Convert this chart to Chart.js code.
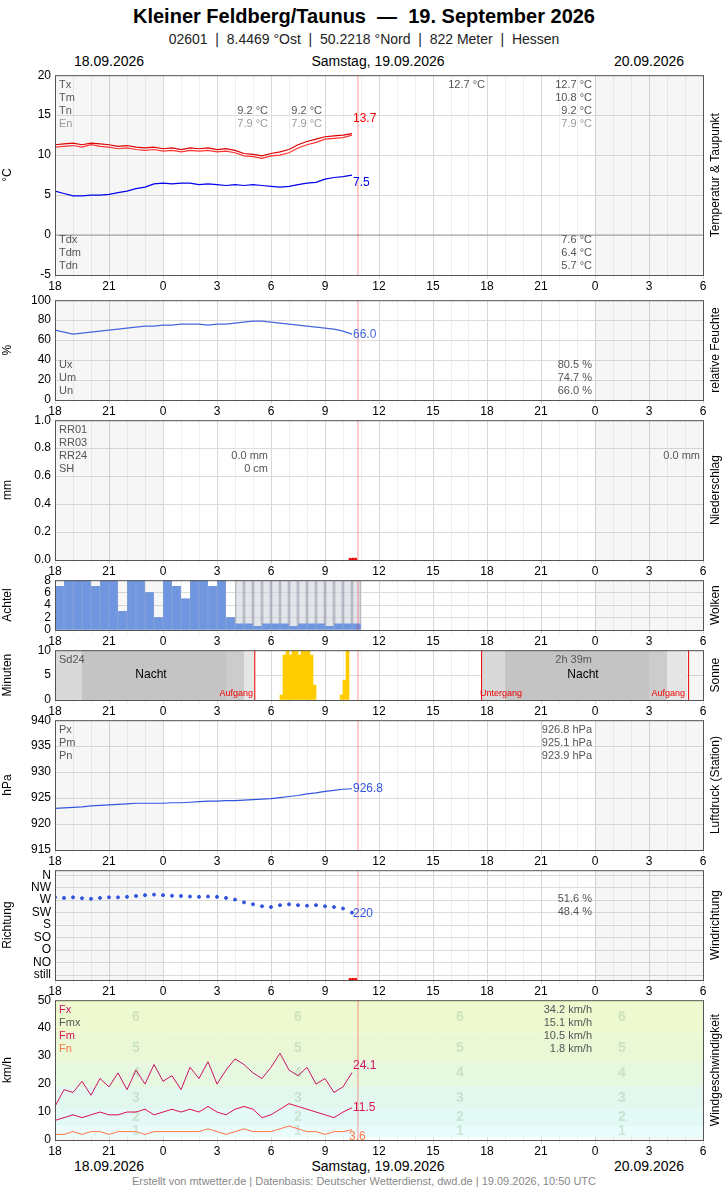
<!DOCTYPE html><html><head><meta charset="utf-8">
<script src="https://cdn.jsdelivr.net/npm/chart.js@4"></script>
<style>body{margin:0;width:728px;height:1190px;position:relative;font-family:"Liberation Sans",Arial,sans-serif;background:#fff}
canvas{position:absolute;left:0}.t{position:absolute;white-space:nowrap;transform:translateX(-50%)}</style></head><body>
<div class="t" style="left:364px;top:5px;font-size:20px;font-weight:bold">Kleiner Feldberg/Taunus &nbsp;—&nbsp; 19. September 2026</div>
<div class="t" style="left:364px;top:31px;font-size:14px;color:#222">02601 &nbsp;|&nbsp; 8.4469 °Ost &nbsp;|&nbsp; 50.2218 °Nord &nbsp;|&nbsp; 822 Meter &nbsp;|&nbsp; Hessen</div>
<div class="t" style="left:109px;top:53px;font-size:14px">18.09.2026</div>
<div class="t" style="left:378px;top:53px;font-size:14px">Samstag, 19.09.2026</div>
<div class="t" style="left:649px;top:53px;font-size:14px">20.09.2026</div>
<div class="t" style="left:109px;top:1158px;font-size:14px">18.09.2026</div>
<div class="t" style="left:378px;top:1158px;font-size:14px">Samstag, 19.09.2026</div>
<div class="t" style="left:649px;top:1158px;font-size:14px">20.09.2026</div>
<div class="t" style="left:364px;top:1175px;font-size:11px;color:#888">Erstellt von mtwetter.de | Datenbasis: Deutscher Wetterdienst, dwd.de | 19.09.2026, 10:50 UTC</div>
<script>
const hours=[0,0.5,1,1.5,2,2.5,3,3.5,4,4.5,5,5.5,6,6.5,7,7.5,8,8.5,9,9.5,10,10.5,11,11.5,12,12.5,13,13.5,14,14.5,15,15.5,16,16.5];
const temp=[11.0,11.1,11.2,11.0,11.3,11.1,11.0,10.8,10.9,10.7,10.6,10.7,10.5,10.6,10.4,10.6,10.5,10.6,10.4,10.5,10.3,9.9,9.8,9.6,9.9,10.0,10.3,10.9,11.3,11.6,12.0,12.1,12.2,12.5];
const tempMax=[11.3,11.4,11.5,11.3,11.5,11.4,11.3,11.1,11.2,11.0,10.9,11.0,10.8,10.9,10.7,10.9,10.8,10.9,10.7,10.8,10.6,10.2,10.1,9.9,10.2,10.4,10.7,11.3,11.7,12.0,12.3,12.4,12.5,12.7];
const dew=[5.5,5.2,4.9,4.9,5.0,5.0,5.1,5.3,5.5,5.8,6.0,6.4,6.5,6.4,6.5,6.5,6.3,6.4,6.3,6.2,6.3,6.2,6.3,6.2,6.1,6.0,6.1,6.3,6.5,6.6,7.0,7.2,7.3,7.5];
const hum=[70,68,66,67,68,69,70,71,72,73,74,74,75,75,76,76,76,75,76,76,77,78,79,79,78,77,76,75,74,73,72,71,69,66];
const cloud=[7,8,8,8,7,8,8,3,8,8,6,2,8,7,5,8,8,7,8,2,8,8,7,8,8,8,7,8,8,8,7,8,8,8];
const sunT=[12.58,12.75,12.92,13.08,13.25,13.42,13.58,13.75,13.92,14.08,14.25,14.42,15.92,16.08,16.25];
const sunM=[1,9,10,9,10,10,9,10,10,10,9,3,1,4,10];
const pres=[923.0,923.1,923.2,923.3,923.5,923.6,923.7,923.8,923.9,924.0,924.0,924.0,924.0,924.1,924.1,924.2,924.3,924.4,924.4,924.5,924.5,924.6,924.7,924.8,924.9,925.1,925.3,925.5,925.8,926.0,926.3,926.5,926.7,926.8];
const wdir=[280,278,280,277,275,278,280,280,282,285,288,290,288,286,285,283,282,283,282,278,272,262,255,248,245,252,255,252,250,252,248,245,240,225];
const gust=[12,18,17,21,16,22,19,24,18,25,20,27,21,23,18,26,22,28,20,25,29,27,24,22,26,31,25,23,26,20,22,17,19,24.1];
const wmean=[7,8,9,8,9,10,9,9,10,10,11,9,10,11,10,11,10,12,10,9,11,12,11,8,9,11,13,12,11,10,9,8,10,11.5];
const wmin=[2,2,3,2,3,3,2,3,3,3,2,3,3,3,3,3,3,4,3,2,3,4,3,3,3,4,5,4,3,3,2,3,3,3.6];
const dirNames={360:'N',315:'NW',270:'W',225:'SW',180:'S',135:'SO',90:'O',45:'NO',0:'still'};
const NOW=16.83;
const xy=(a)=>a.map((v,i)=>({x:hours[i],y:v}));

function makeDeco(o){return {id:'deco',beforeDatasetsDraw(c){const x=c.scales.x,ca=c.chartArea,g=c.ctx;g.save();
 g.fillStyle='rgba(0,0,0,0.035)';[[0,6],[30,36]].forEach(r=>g.fillRect(x.getPixelForValue(r[0]),ca.top,x.getPixelForValue(r[1])-x.getPixelForValue(r[0]),ca.bottom-ca.top));
 if(o.before)o.before(c,g);g.restore();},
 afterDatasetsDraw(c){const x=c.scales.x,ca=c.chartArea,g=c.ctx;g.save();
 g.strokeStyle='rgba(255,0,0,0.4)';g.lineWidth=1;const nx=x.getPixelForValue(NOW);g.beginPath();g.moveTo(nx,ca.top);g.lineTo(nx,ca.bottom);g.stroke();
 g.strokeStyle='#555';g.strokeRect(ca.left+.5,ca.top+.5,ca.right-ca.left,ca.bottom-ca.top);
 (o.texts||[]).forEach(t=>{g.font=(t.s||11)+'px "Liberation Sans",Arial';g.fillStyle=t.c||'#555';g.textAlign=t.a||'left';g.textBaseline='middle';g.fillText(t.t,ca.left+t.x,ca.top+t.y);});
 g.translate(716,(ca.top+ca.bottom)/2);g.rotate(-Math.PI/2);g.font='12px "Liberation Sans",Arial';g.fillStyle='#000';g.textAlign='center';g.textBaseline='middle';g.fillText(o.side,0,0);
 g.restore();}};}

function panel(top,bottom,yopt,datasets,opts){
 const cv=document.createElement('canvas');const h=bottom-top+30;cv.style.top=(top-11)+'px';cv.style.width='728px';cv.style.height=h+'px';cv.width=728;cv.height=h;document.body.appendChild(cv);
 const y=Object.assign({position:'left',afterFit:s=>{s.width=55},border:{display:false},
   title:{display:true,text:yopt.title,color:'#000',font:{size:12},padding:0},ticks:Object.assign({color:'#000',font:{size:12},padding:4,autoSkip:false},yopt.ticks||{}),grid:{color:'#dcdcdc',drawTicks:false}},yopt.y);
 return new Chart(cv,{data:{datasets},options:{animation:false,responsive:false,devicePixelRatio:1,layout:{padding:{top:7,left:0,right:0,bottom:0}},
 plugins:{legend:{display:false},tooltip:{enabled:false}},
 scales:{x:{type:'linear',min:0,max:36,offset:false,afterFit:s=>{s.height=19},ticks:{stepSize:1,autoSkip:false,maxRotation:0,padding:0,color:'#000',font:{size:12},callback:v=>v%3===0?String((v+18)%24):''},
   grid:{offset:false,color:c=>c.tick&&c.tick.value%3===0?'#d8d8d8':'#efefef',tickLength:4},border:{display:false}},
  y:y,
  r:{type:'linear',position:'right',axis:'y',min:0,max:1,afterFit:s=>{s.width=25},ticks:{display:false},grid:{display:false},border:{display:false}}}},plugins:[makeDeco(opts)]});
}
const L=(d,col,w)=>({type:'line',data:d,borderColor:col,borderWidth:w||1.2,pointRadius:0,tension:0});

panel(75,275,{title:'°C',y:{min:-5,max:20},ticks:{stepSize:5}},[
 L(xy(temp),'#ff3333'),L(xy(tempMax),'#dd0000'),L(xy(dew),'#0000ee'),
 {type:'line',data:[{x:0,y:0},{x:36,y:0}],borderColor:'#999',borderWidth:1,pointRadius:0}],
 {side:'Temperatur & Taupunkt',texts:[{t:'Tx',x:4,y:10},{t:'Tm',x:4,y:23},{t:'Tn',x:4,y:36},{t:'En',x:4,y:49,c:'#999'},
 {t:'9.2 °C',x:213,y:36,a:'right'},{t:'7.9 °C',x:213,y:49,a:'right',c:'#999'},{t:'9.2 °C',x:267,y:36,a:'right'},{t:'7.9 °C',x:267,y:49,a:'right',c:'#999'},
 {t:'12.7 °C',x:430,y:10,a:'right'},{t:'12.7 °C',x:537,y:10,a:'right'},{t:'10.8 °C',x:537,y:23,a:'right'},{t:'9.2 °C',x:537,y:36,a:'right'},{t:'7.9 °C',x:537,y:49,a:'right',c:'#999'},
 {t:'13.7',x:298,y:43,c:'#ee0000',s:12},{t:'7.5',x:298,y:107,c:'#0000ee',s:12},
 {t:'Tdx',x:4,y:165},{t:'Tdm',x:4,y:178},{t:'Tdn',x:4,y:191},{t:'7.6 °C',x:537,y:165,a:'right'},{t:'6.4 °C',x:537,y:178,a:'right'},{t:'5.7 °C',x:537,y:191,a:'right'}]});

panel(300,400,{title:'%',y:{min:0,max:100},ticks:{stepSize:20}},[L(xy(hum),'#4466dd')],
 {side:'relative Feuchte',texts:[{t:'66.0',x:298,y:34,c:'#4466dd',s:12},{t:'Ux',x:4,y:65},{t:'Um',x:4,y:78},{t:'Un',x:4,y:91},
 {t:'80.5 %',x:537,y:65,a:'right'},{t:'74.7 %',x:537,y:78,a:'right'},{t:'66.0 %',x:537,y:91,a:'right'}]});

panel(420,560,{title:'mm',y:{min:0,max:1},ticks:{stepSize:0.2,callback:v=>v.toFixed(1)}},[
 {type:'scatter',data:[{x:16.4,y:0.005},{x:16.55,y:0.005},{x:16.7,y:0.005}],pointRadius:1.2,pointBackgroundColor:'#e00',borderColor:'#e00'}],
 {side:'Niederschlag',texts:[{t:'RR01',x:4,y:10},{t:'RR03',x:4,y:23},{t:'RR24',x:4,y:36},{t:'SH',x:4,y:49},{t:'0.0 mm',x:213,y:36,a:'right'},{t:'0 cm',x:213,y:49,a:'right'},{t:'0.0 mm',x:645,y:36,a:'right'}]});

panel(580,630,{title:'Achtel',y:{min:0,max:8},ticks:{stepSize:2}},[
 {type:'bar',data:xy(cloud).map(p=>({x:p.x+0.25,y:p.x<10?p.y:8})),backgroundColor:'rgba(200,205,215,0.5)',borderColor:'#99a',borderWidth:0.5,barThickness:8,grouped:false,order:2},
 {type:'bar',data:xy(cloud).map(p=>({x:p.x+0.25,y:p.x<10?p.y:(p.y>=8?1:0.6)})),backgroundColor:'#7096e0',barThickness:8,grouped:false,order:1}],
 {side:'Wolken'});

panel(650,700,{title:'Minuten',y:{min:0,max:10},ticks:{stepSize:5}},[
 {type:'bar',data:sunT.map((t,i)=>({x:t,y:sunM[i]})),backgroundColor:'#ffcc00',barThickness:3,grouped:false}],
 {side:'Sonne',before:(c,g)=>{const x=c.scales.x,ca=c.chartArea;const f=(a,b,col)=>{g.fillStyle=col;g.fillRect(x.getPixelForValue(a),ca.top,x.getPixelForValue(b)-x.getPixelForValue(a),ca.bottom-ca.top)};
  f(0,11.1,'#d9d9d9');f(1.5,9.5,'#c4c4c4');f(9.5,10.5,'#ccc');f(10.5,11.1,'#e6e6e6');f(23.7,35.1,'#d9d9d9');f(25,33,'#c4c4c4');f(33,34,'#ccc');f(34,35.1,'#e6e6e6');
  g.strokeStyle='#e00';[11.1,23.7,35.2].forEach(v=>{const p=x.getPixelForValue(v);g.beginPath();g.moveTo(p,ca.top);g.lineTo(p,ca.bottom);g.stroke();});},
 texts:[{t:'Sd24',x:4,y:10},{t:'Nacht',x:96,y:24,c:'#000',a:'center',s:12},{t:'Aufgang',x:198,y:43,c:'#e00',a:'right',s:9},{t:'Untergang',x:425,y:43,c:'#e00',s:9},
 {t:'2h 39m',x:537,y:10,a:'right'},{t:'Nacht',x:528,y:24,c:'#000',a:'center',s:12},{t:'Aufgang',x:630,y:43,c:'#e00',a:'right',s:9}]});

panel(720,850,{title:'hPa',y:{min:915,max:940},ticks:{stepSize:5}},[L(xy(pres),'#3355dd')],
 {side:'Luftdruck (Station)',texts:[{t:'Px',x:4,y:10},{t:'Pm',x:4,y:23},{t:'Pn',x:4,y:36},{t:'926.8 hPa',x:537,y:10,a:'right'},{t:'925.1 hPa',x:537,y:23,a:'right'},{t:'923.9 hPa',x:537,y:36,a:'right'},{t:'926.8',x:298,y:68,c:'#3355dd',s:12}]});

panel(870,980,{title:'Richtung',y:{min:-18,max:378,afterBuildTicks:s=>{s.ticks=[0,45,90,135,180,225,270,315,360].map(v=>({value:v}))}},ticks:{callback:v=>dirNames[v]}},[
 {type:'scatter',data:xy(wdir),pointRadius:1.5,pointBackgroundColor:'#3355dd',borderColor:'#3355dd'},
 {type:'scatter',data:[{x:16.4,y:-16},{x:16.55,y:-16},{x:16.7,y:-16}],pointRadius:1.2,pointBackgroundColor:'#e00',borderColor:'#e00'}],
 {side:'Windrichtung',texts:[{t:'220',x:298,y:43,c:'#3355dd',s:12},{t:'51.6 %',x:537,y:29,a:'right'},{t:'48.4 %',x:537,y:42,a:'right'}]});

const bft=[[1,5,'#eafcfc'],[5,11,'#e3f9f6'],[11,19,'#e2f8ee'],[19,28,'#e6f8e0'],[28,38,'#eaf8d6'],[38,49,'#eef9d0'],[49,50,'#f2facc']];
panel(1000,1140,{title:'km/h',y:{min:0,max:50},ticks:{stepSize:10}},[
 L(xy(wmin),'#ff7744',1),L(xy(wmean),'#dd1155',1),L(xy(gust),'#cc1166',1)],
 {side:'Windgeschwindigkeit',before:(c,g)=>{const y=c.scales.y,ca=c.chartArea;bft.forEach(b=>{g.fillStyle=b[2];g.fillRect(ca.left,y.getPixelForValue(b[1]),ca.right-ca.left,y.getPixelForValue(b[0])-y.getPixelForValue(b[1]));});
  g.font='bold 14px "Liberation Sans",Arial';g.fillStyle='rgba(150,190,150,0.35)';g.textAlign='center';g.textBaseline='middle';
  [81,243,405,567].forEach(px=>{[[1,3],[2,8],[3,15],[4,24],[5,33],[6,44]].forEach(b=>g.fillText(b[0],ca.left+px,y.getPixelForValue(b[1])));});},
 texts:[{t:'Fx',x:4,y:10,c:'#cc1166'},{t:'Fmx',x:4,y:23},{t:'Fm',x:4,y:36,c:'#dd1155'},{t:'Fn',x:4,y:49,c:'#ff7744'},
 {t:'34.2 km/h',x:537,y:10,a:'right'},{t:'15.1 km/h',x:537,y:23,a:'right'},{t:'10.5 km/h',x:537,y:36,a:'right'},{t:'1.8 km/h',x:537,y:49,a:'right'},
 {t:'24.1',x:298,y:65,c:'#cc1166',s:12},{t:'11.5',x:298,y:107,c:'#dd1155',s:12},{t:'3.6',x:294,y:136,c:'#ff7744',s:12}]});
</script></body></html>
